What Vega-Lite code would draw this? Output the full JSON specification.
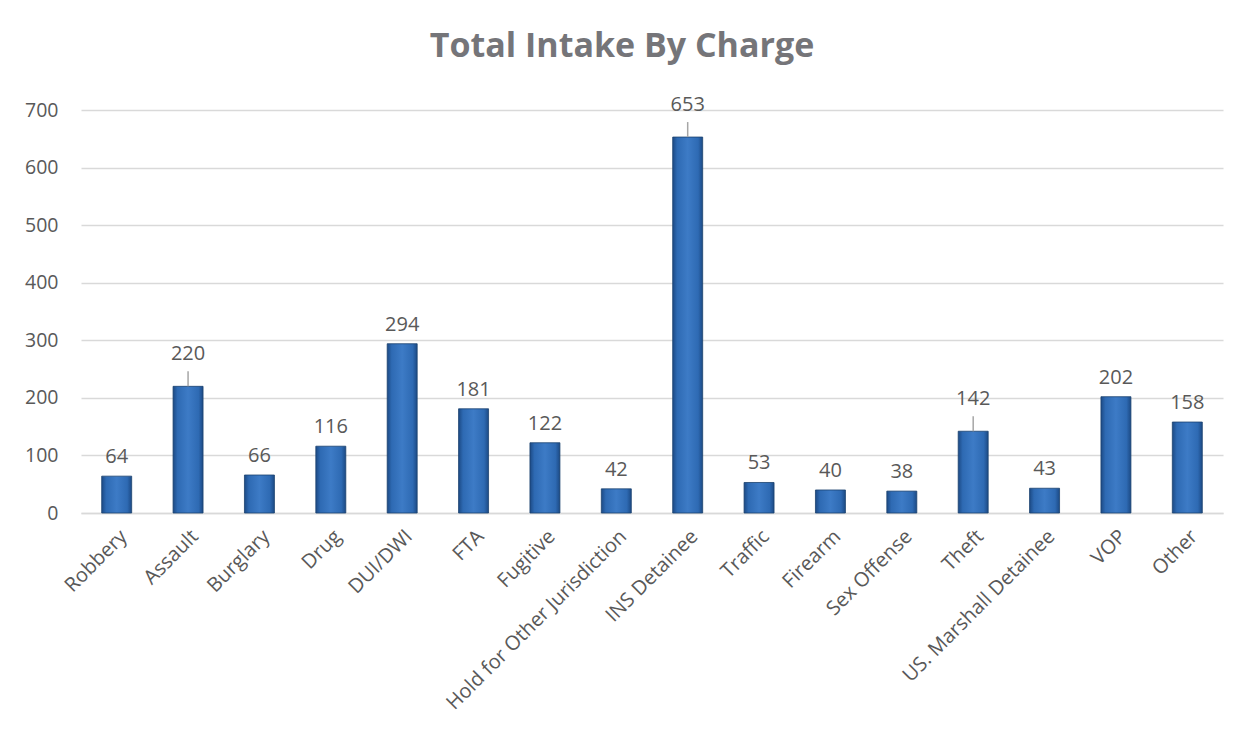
{
  "$schema": "https://vega.github.io/schema/vega-lite/v6.json",
  "autosize": "none",
  "width": 1142,
  "height": 403,
  "padding": {"left": 81, "top": 110, "right": 26, "bottom": 233},
  "background": "white",
  "title": {
    "text": "Total Intake By Charge",
    "font": "Open Sans",
    "fontSize": 34,
    "fontWeight": "bold",
    "color": "#757579",
    "anchor": "middle",
    "offset": 31,
    "dx": -30
  },
  "config": {
    "view": {"stroke": null},
    "font": "Open Sans"
  },
  "data": {
    "values": [
      {"charge": "Robbery", "count": 64, "leader": false},
      {"charge": "Assault", "count": 220, "leader": true},
      {"charge": "Burglary", "count": 66, "leader": false},
      {"charge": "Drug", "count": 116, "leader": false},
      {"charge": "DUI/DWI", "count": 294, "leader": false},
      {"charge": "FTA", "count": 181, "leader": false},
      {"charge": "Fugitive", "count": 122, "leader": false},
      {"charge": "Hold for Other Jurisdiction", "count": 42, "leader": false},
      {"charge": "INS Detainee", "count": 653, "leader": true},
      {"charge": "Traffic", "count": 53, "leader": false},
      {"charge": "Firearm", "count": 40, "leader": false},
      {"charge": "Sex Offense", "count": 38, "leader": false},
      {"charge": "Theft", "count": 142, "leader": true},
      {"charge": "US. Marshall Detainee", "count": 43, "leader": false},
      {"charge": "VOP", "count": 202, "leader": false},
      {"charge": "Other", "count": 158, "leader": false}
    ]
  },
  "encoding": {
    "x": {
      "field": "charge",
      "type": "nominal",
      "sort": null,
      "scale": {"paddingInner": 0.58, "paddingOuter": 0.29},
      "axis": {
        "title": null,
        "labelAngle": -45,
        "labelAlign": "right",
        "labelBaseline": "top",
        "labelFontSize": 20,
        "labelColor": "#595959",
        "labelPadding": 13,
        "ticks": false,
        "domainColor": "#d9d9d9",
        "domainWidth": 1.5,
        "labelLimit": 400
      }
    },
    "y": {
      "field": "count",
      "type": "quantitative",
      "scale": {"domain": [0, 700]},
      "axis": {
        "title": null,
        "values": [0, 100, 200, 300, 400, 500, 600, 700],
        "labelFontSize": 19.5,
        "labelColor": "#595959",
        "labelPadding": 23,
        "ticks": false,
        "domain": false,
        "gridColor": "#d9d9d9",
        "gridWidth": 1.5
      }
    }
  },
  "layer": [
    {
      "mark": {
        "type": "bar",
        "stroke": "#1a416f",
        "strokeWidth": 0.8,
        "fill": {
          "x1": 0, "y1": 0, "x2": 1, "y2": 0,
          "gradient": "linear",
          "stops": [
            {"offset": 0, "color": "#1c4a85"},
            {"offset": 0.15, "color": "#2e6ab3"},
            {"offset": 0.5, "color": "#3d7bc6"},
            {"offset": 0.85, "color": "#2e6ab3"},
            {"offset": 1, "color": "#1c4a85"}
          ]
        }
      }
    },
    {
      "transform": [{"filter": "datum.leader"}],
      "mark": {"type": "rule", "color": "#a6a6a6", "strokeWidth": 1.5, "y2Offset": -15},
      "encoding": {"y2": {"field": "count"}}
    },
    {
      "transform": [{"filter": "!datum.leader"}],
      "mark": {"type": "text", "dy": -13, "fontSize": 20, "color": "#595959", "baseline": "alphabetic"},
      "encoding": {
        "text": {"field": "count", "type": "quantitative"}
      }
    },
    {
      "transform": [{"filter": "datum.leader"}],
      "mark": {"type": "text", "dy": -26, "fontSize": 20, "color": "#595959", "baseline": "alphabetic"},
      "encoding": {
        "text": {"field": "count", "type": "quantitative"}
      }
    }
  ]
}
